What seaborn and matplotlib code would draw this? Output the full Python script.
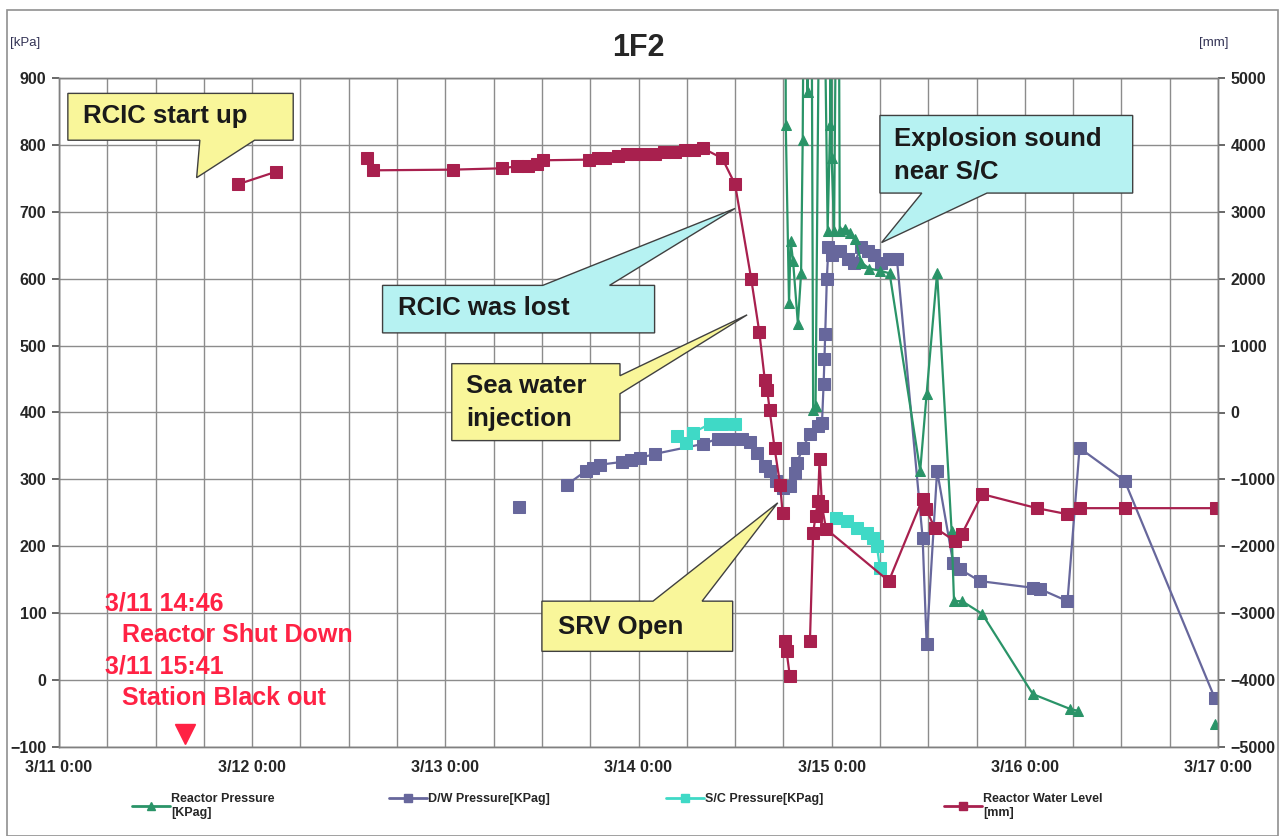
import numpy as np
import pandas as pd
import seaborn as sns
import matplotlib.pyplot as plt
from matplotlib.patches import Polygon, Rectangle
from matplotlib.lines import Line2D

# time axis: hours after 3/11 0:00, None = gap in the record
tick_labels = ["3/11 0:00", "3/12 0:00", "3/13 0:00", "3/14 0:00", "3/15 0:00", "3/16 0:00", "3/17 0:00"]

# Reactor water level [mm] (right axis)
wl_t = [22.2, 27.0, None,
        38.3, 39.0, 48.9, 55.0, 56.9, 58.3, 59.4, 60.1, 65.8, 67.0, 67.8, 69.4, 70.6, 71.7, 72.8,
        74.0, 75.2, 76.5, 77.8, 78.9, 80.0, 82.4, 84.0, 86.0, 87.0, 87.7, 88.0, 88.3, 88.9, 89.6, 89.9, None,
        90.2, 90.4, 90.8, None,
        93.3, 93.7, 94.0, 94.3, 94.5, 94.8, 95.3, 103.1, 107.3, 107.7, 108.8, 111.3, 112.2, 114.7,
        121.5, 125.3, 126.8, 132.4, 143.8]
wl_v = [3410, 3600, None,
        3800, 3620, 3630, 3650, 3680, 3690, 3720, 3770, 3780, 3800, 3800, 3840, 3860, 3860, 3860,
        3870, 3890, 3900, 3920, 3920, 3950, 3800, 3410, 2000, 1210, 480, 330, 30, -530, -1080, -1500, None,
        -3420, -3570, -3940, None,
        -3420, -1800, -1545, -1320, -690, -1400, -1740, -2520, -1290, -1440, -1720, -1920, -1810, -1220,
        -1430, -1520, -1430, -1430, -1430]

# D/W pressure [kPa]
dw_t = [57.1, None,
        63.1, 65.5, 66.3, 67.2, 69.9, 71.1, 72.2, 74.0, 80.0, 81.9, 83.4, 84.8, 85.8, 86.7, 87.7, 88.3,
        89.1, 89.9, 90.8, 91.4, 91.7, 92.4, 93.3, 94.3, 94.8, 95.0, 95.1, 95.2, 95.4, 95.6,
        96.1, 97.0, 98.0, 98.8, 99.7, 100.5, 101.2, 102.1, 103.1, 104.1,
        107.3, 107.8, 109.1, 111.1, 111.9, 114.4, 121.0, 121.9, 125.3, 126.8, 132.4, 143.6]
dw_v = [259, None,
        292, 313, 317, 322, 326, 329, 332, 338, 353, 361, 361, 361, 356, 340, 320, 313,
        298, 287, 290, 310, 325, 347, 368, 380, 385, 443, 480, 518, 600, 647,
        635, 642, 630, 624, 647, 642, 635, 624, 630, 630,
        213, 54, 313, 175, 166, 148, 138, 136, 118, 347, 298, -27]

# S/C pressure [kPa]
sc_t = [76.8, 77.9, 78.8, 80.9, 82.4, 84.0, None,
        96.6, 97.9, 99.1, 100.4, 101.1, 101.6, 102.0]
sc_v = [365, 355, 370, 383, 383, 383, None,
        243, 238, 228, 220, 213, 201, 168]

# Reactor pressure [kPa]
rp_t = [90.2, 90.3, 90.7, 90.9, 91.2, 91.8, 92.2, 92.4, 92.7, 93.0, 93.4, 93.7, 94.0, 94.7,
        95.5, 95.8, 95.9, 96.0, 96.3, 96.8, 97.0, 97.6, 98.3, 98.9, 99.7, 100.7, 102.0, 103.2,
        107.0, 107.8, 109.1, 110.9, 111.2, 112.2, 114.7, 121.0, 125.6, 126.6, None, 143.6]
rp_v = [1400, 829, 563, 657, 627, 533, 608, 807, 1400, 879, 1400, 403, 410, 1400,
        672, 829, 1400, 781, 672, 1400, 672, 675, 669, 660, 624, 615, 612, 608,
        313, 428, 609, 223, 118, 118, 99, -21, -43, -46, None, -66]


def to_frame(t, v):
    df = pd.DataFrame({"t": t, "v": v}, dtype=float)
    df["seg"] = df["t"].isna().cumsum()
    return df.dropna()


sns.set_theme(style="white")
plt.rcParams["font.family"] = ["Liberation Sans", "DejaVu Sans"]

W, H = 1283, 836
fig = plt.figure(figsize=(W / 100, H / 100), dpi=100)
ax = fig.add_axes([59 / W, 1 - 747 / H, (1218 - 59) / W, (747 - 78) / H])
ax2 = ax.twinx()

c_rp = "#2a9468"
c_dw = "#67679c"
c_sc = "#3fd9c6"
c_wl = "#a8204e"

sns.lineplot(data=to_frame(dw_t, dw_v), x="t", y="v", units="seg", estimator=None, sort=False,
             color=c_dw, marker="s", markersize=8, markeredgecolor=c_dw, linewidth=1.6, ax=ax, legend=False)
sns.lineplot(data=to_frame(sc_t, sc_v), x="t", y="v", units="seg", estimator=None, sort=False,
             color=c_sc, marker="s", markersize=8, markeredgecolor=c_sc, linewidth=1.6, ax=ax, legend=False)
sns.lineplot(data=to_frame(rp_t, rp_v), x="t", y="v", units="seg", estimator=None, sort=False,
             color=c_rp, marker="^", markersize=7, markeredgecolor=c_rp, linewidth=1.6, ax=ax, legend=False)
sns.lineplot(data=to_frame(wl_t, wl_v), x="t", y="v", units="seg", estimator=None, sort=False,
             color=c_wl, marker="s", markersize=8, markeredgecolor=c_wl, linewidth=1.6, ax=ax2, legend=False)

ax.set_xlim(0, 144)
ax.set_ylim(-100, 900)
ax2.set_ylim(-5000, 5000)
ax.set_xticks(np.arange(0, 145, 24))
ax.set_xticks(np.arange(0, 145, 6), minor=True)
ax.set_xticklabels(tick_labels)
ax.set_yticks(np.arange(-100, 901, 100))
ax2.set_yticks(np.arange(-5000, 5001, 1000))
ax.set_xlabel("")
ax.set_ylabel("")
ax2.set_ylabel("")
ax.grid(which="both", color="#8c8c8c", linewidth=1.0)
ax.set_axisbelow(True)
for a in (ax, ax2):
    for s in a.spines.values():
        s.set_color("#808080")
        s.set_linewidth(1.0)
    a.tick_params(axis="both", which="major", labelsize=11.5, length=5, color="#555555", pad=4)
    for lab in a.get_xticklabels() + a.get_yticklabels():
        lab.set_fontweight("bold")
ax.tick_params(axis="x", which="minor", length=0)
ax.tick_params(axis="y", left=True)
ax2.tick_params(axis="y", right=True)

ax.set_title("1F2", fontsize=22, fontweight="bold", pad=16)
fig.text(10 / W, 1 - 43 / H, "[kPa]", fontsize=9.5, color="#333355", ha="left", va="center")
fig.text(1228 / W, 1 - 43 / H, "[mm]", fontsize=9.5, color="#333355", ha="right", va="center")

# callout boxes (hours, kPa)
yellow = "#f9f69a"
cyan = "#b6f2f2"
callouts = [
    ([(1.1, 807), (17.5, 807), (17.1, 751), (24.3, 807), (29.1, 807), (29.1, 877), (1.1, 877)], yellow,
     3.0, 843, "RCIC start up"),
    ([(40.2, 519), (74.0, 519), (74.0, 590), (68.4, 590), (84.0, 705), (60.1, 590), (40.2, 590)], cyan,
     42.1, 556, "RCIC was lost"),
    ([(48.8, 358), (69.7, 358), (69.7, 428), (85.5, 546), (69.7, 455), (69.7, 473), (48.8, 473)], yellow,
     50.6, 415, "Sea water\ninjection"),
    ([(60.0, 43), (83.7, 43), (83.7, 118), (79.9, 118), (89.3, 265), (73.8, 118), (60.0, 118)], yellow,
     62.0, 80, "SRV Open"),
    ([(102.0, 728), (107.2, 728), (102.2, 654), (115.3, 728), (133.4, 728), (133.4, 844), (102.0, 844)], cyan,
     103.8, 785, "Explosion sound\nnear S/C"),
]
for verts, col, tx, ty, txt in callouts:
    ax.add_patch(Polygon(verts, closed=True, facecolor=col, edgecolor="#404040", linewidth=1.0,
                         zorder=5, clip_on=False))
    ax.text(tx, ty, txt, fontsize=18.5, fontweight="bold", color="#1a1a1a", ha="left", va="center",
            linespacing=1.45, zorder=6)

red = "#ff2244"
ax.text(5.7, 115, "3/11 14:46", fontsize=18, fontweight="bold", color=red, va="center", zorder=6)
ax.text(7.8, 67, "Reactor Shut Down", fontsize=18, fontweight="bold", color=red, va="center", zorder=6)
ax.text(5.7, 21, "3/11 15:41", fontsize=18, fontweight="bold", color=red, va="center", zorder=6)
ax.text(7.8, -27, "Station Black out", fontsize=18, fontweight="bold", color=red, va="center", zorder=6)
ax.plot([15.7], [-80], marker="v", markersize=14, color=red, linestyle="none", zorder=6)

# legend, one entry per slot like the original
entries = [
    (132, "Reactor Pressure\n[KPag]", c_rp, "^"),
    (389, "D/W Pressure[KPag]", c_dw, "s"),
    (666, "S/C Pressure[KPag]", c_sc, "s"),
    (944, "Reactor Water Level\n[mm]", c_wl, "s"),
]
for x0, lab, col, mk in entries:
    h = Line2D([], [], color=col, marker=mk, markersize=6, markeredgecolor=col, linewidth=2)
    fig.legend([h], [lab], loc="upper left", bbox_to_anchor=(x0 / W, 1 - 793 / H), frameon=False,
               handlelength=3.0, handletextpad=0.15, borderpad=0, borderaxespad=0,
               prop={"weight": "bold", "size": 9})

fig.patches.append(Rectangle((7 / W, 0), (1278 - 7) / W, 1 - 10 / H, transform=fig.transFigure,
                             fill=False, edgecolor="#909090", linewidth=1.2))

fig.savefig("out.png", dpi=100)
